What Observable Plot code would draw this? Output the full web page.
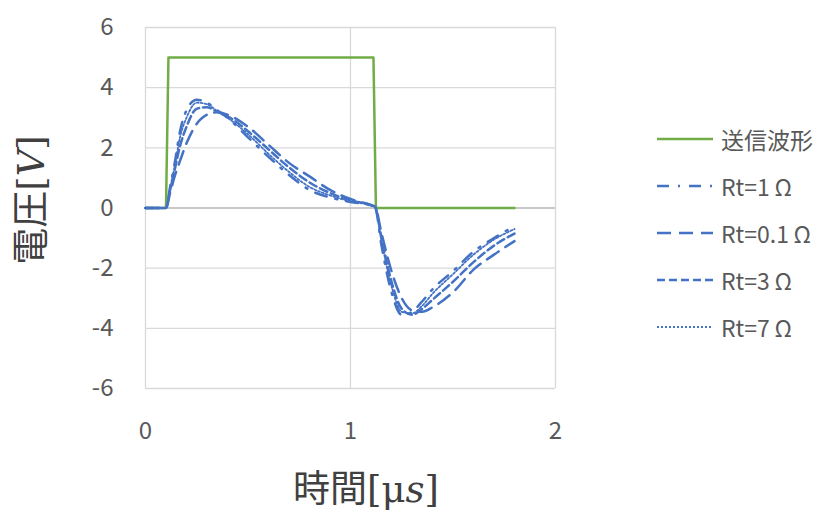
<!DOCTYPE html>
<html>
<head>
<meta charset="utf-8">
<script src="https://cdn.jsdelivr.net/npm/d3@7"></script>
<script src="https://cdn.jsdelivr.net/npm/@observablehq/plot@0.6"></script>
<style>
  html, body { margin: 0; padding: 0; background: #fff; }
  #wrap { position: relative; width: 830px; height: 513px; font-family: "Noto Sans CJK JP", "Noto Sans", sans-serif; }
  #wrap svg { position: absolute; left: 0; top: 0; }
  .ttl { position: absolute; color: #404040; font-size: 37px; white-space: nowrap; line-height: 1; }
  .m { font-family: "DejaVu Serif", "Liberation Serif", serif; }
  .mi { font-family: "DejaVu Serif", "Liberation Serif", serif; font-style: italic; }
  .leg { position: absolute; left: 657px; width: 180px; height: 30px; display: flex; align-items: center; color: #595959; font-size: 23px; }
  .leg svg { position: static !important; margin-right: 6px; }
</style>
</head>
<body>
<div id="wrap"></div>
<script>
// ---- data ----
const xTicks = [0, 1, 2];
const yTicks = [-6, -4, -2, 0, 2, 4, 6];

const txTime = [0, 0.1, 0.112, 1.112, 1.124, 1.8];
const txVolt = [0, 0, 5, 5, 0, 0];

const time = [0, 0.1, 0.12, 0.14, 0.17, 0.2, 0.25, 0.3, 0.35, 0.4, 0.5, 0.6, 0.7, 0.8, 0.9, 1.0, 1.1, 1.12, 1.15, 1.2, 1.25, 1.3, 1.35, 1.4, 1.5, 1.6, 1.7, 1.8];
const rt1  = [0, 0, 0.7, 1.4, 2.6, 3.25, 3.6, 3.5, 3.25, 3.0, 2.35, 1.7, 1.1, 0.6, 0.35, 0.2, 0.08, 0.02, -1.2, -2.8, -3.55, -3.45, -3.1, -2.7, -2.1, -1.45, -1.0, -0.6];
const rt01 = [0, 0, 0.5, 1.0, 1.6, 2.15, 2.8, 3.1, 3.18, 3.1, 2.7, 2.1, 1.5, 1.05, 0.6, 0.3, 0.1, 0.05, -0.8, -2.1, -3.0, -3.4, -3.45, -3.3, -2.8, -2.05, -1.55, -1.1];
const rt3  = [0, 0, 0.6, 1.2, 2.1, 2.7, 3.3, 3.35, 3.2, 3.05, 2.55, 1.95, 1.35, 0.85, 0.5, 0.25, 0.09, 0.03, -0.95, -2.45, -3.35, -3.55, -3.35, -3.05, -2.45, -1.8, -1.25, -0.85];
const rt7  = [0, 0, 0.65, 1.3, 2.4, 3.0, 3.5, 3.45, 3.22, 3.0, 2.45, 1.8, 1.2, 0.7, 0.42, 0.22, 0.08, 0.02, -1.05, -2.6, -3.45, -3.5, -3.25, -2.85, -2.2, -1.55, -1.05, -0.7];

const seriesNames = ["送信波形", "Rt=1\u2009Ω", "Rt=0.1\u2009Ω", "Rt=3\u2009Ω", "Rt=7\u2009Ω"];
const green = "#70ad47", blue = "#4472c4";
const styles = [
  {stroke: green, width: 2.5, dash: null},
  {stroke: blue, width: 2.5, dash: "12,9,2,9"},
  {stroke: blue, width: 2.5, dash: "14,8"},
  {stroke: blue, width: 2.5, dash: "8,4"},
  {stroke: blue, width: 1.8, dash: "2,2"}
];

const tx = txTime.map((t, i) => ({t, v: txVolt[i]}));
const blueSeries = [rt1, rt01, rt3, rt7].map(arr => time.map((t, i) => ({t, v: arr[i]})));

const marks = [
  Plot.gridY(yTicks, {stroke: "#d9d9d9", strokeOpacity: 1, strokeWidth: 1.3}),
  Plot.gridX(xTicks, {stroke: "#d9d9d9", strokeOpacity: 1, strokeWidth: 1.3}),
  Plot.ruleY([0], {stroke: "#bfbfbf", strokeWidth: 1.6}),
  Plot.axisY(yTicks, {tickSize: 0, tickPadding: 32, fontSize: 24, fill: "#595959", label: null, tickFormat: d => d < 0 ? "-" + Math.abs(d) : String(d)}),
  Plot.axisX(xTicks, {tickSize: 0, tickPadding: 33, fontSize: 24, fill: "#595959", label: null, tickFormat: d => String(d)}),
  Plot.line(tx, {x: "t", y: "v", stroke: green, strokeWidth: 2.5})
];
blueSeries.forEach((d, i) => {
  const s = styles[i + 1];
  marks.push(Plot.line(d, {x: "t", y: "v", stroke: s.stroke, strokeWidth: s.width, strokeDasharray: s.dash, curve: "monotone-x"}));
});

const chart = Plot.plot({
  width: 830, height: 513,
  marginLeft: 145, marginRight: 275, marginTop: 27, marginBottom: 125,
  x: {domain: [0, 2]},
  y: {domain: [-6, 6]},
  style: {fontFamily: "'Noto Sans CJK JP', 'Noto Sans', sans-serif", background: "transparent"},
  marks
});

const wrap = document.getElementById("wrap");
wrap.appendChild(chart);

// axis titles
const yt = document.createElement("div");
yt.className = "ttl";
yt.innerHTML = '電圧<span class="m">[</span><span class="mi">V</span><span class="m">]</span>';
wrap.appendChild(yt);
const r = yt.getBoundingClientRect();
yt.style.left = (30 - r.width / 2) + "px";
yt.style.top = (200 - r.height / 2) + "px";
yt.style.transform = "rotate(-90deg)";

const xt = document.createElement("div");
xt.className = "ttl";
xt.innerHTML = '時間<span class="m">[μ</span><span class="mi">s</span><span class="m">]</span>';
wrap.appendChild(xt);
const r2 = xt.getBoundingClientRect();
xt.style.left = (366 - r2.width / 2) + "px";
xt.style.top = (488 - r2.height / 2) + "px";

// legend
const legY = [139, 186, 233, 280, 327];
seriesNames.forEach((name, i) => {
  const s = styles[i];
  const row = document.createElement("div");
  row.className = "leg";
  row.style.top = (legY[i] - 15) + "px";
  const svgNS = "http://www.w3.org/2000/svg";
  const sv = document.createElementNS(svgNS, "svg");
  sv.setAttribute("width", 58); sv.setAttribute("height", 10);
  const ln = document.createElementNS(svgNS, "line");
  ln.setAttribute("x1", 0); ln.setAttribute("x2", 56); ln.setAttribute("y1", 5); ln.setAttribute("y2", 5);
  ln.setAttribute("stroke", s.stroke); ln.setAttribute("stroke-width", s.width);
  if (s.dash) ln.setAttribute("stroke-dasharray", s.dash);
  sv.appendChild(ln);
  row.appendChild(sv);
  const tx = document.createElement("span");
  tx.textContent = name;
  row.appendChild(tx);
  wrap.appendChild(row);
});
</script>
</body>
</html>
